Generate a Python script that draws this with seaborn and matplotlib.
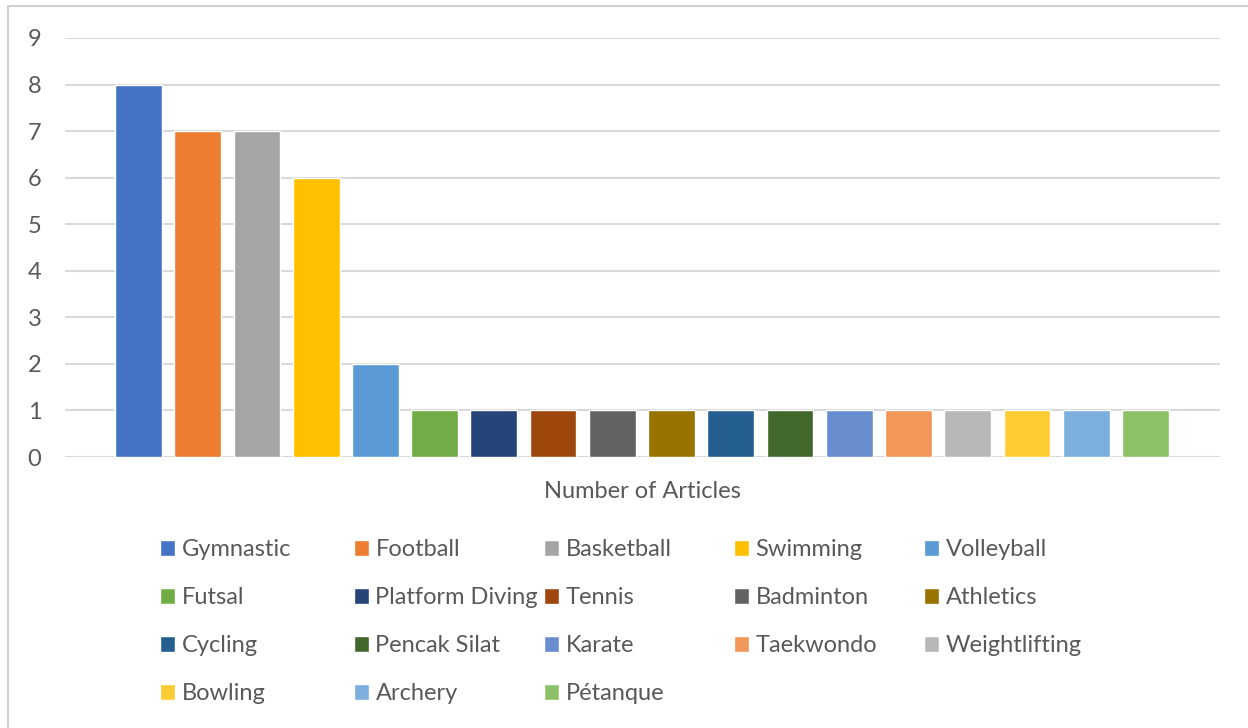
import matplotlib
matplotlib.use("Agg")
import matplotlib.pyplot as plt
from matplotlib.lines import Line2D
import seaborn as sns
import pandas as pd

sports = ["Gymnastic", "Football", "Basketball", "Swimming", "Volleyball",
          "Futsal", "Platform Diving", "Tennis", "Badminton", "Athletics",
          "Cycling", "Pencak Silat", "Karate", "Taekwondo", "Weightlifting",
          "Bowling", "Archery", "Pétanque"]
articles = [8, 7, 7, 6, 2, 1, 1, 1, 1, 1, 1, 1, 1, 1, 1, 1, 1, 1]
colors = ["#4472C4", "#ED7D31", "#A5A5A5", "#FFC000", "#5B9BD5", "#70AD47",
          "#264478", "#9E480E", "#636363", "#997300", "#255E91", "#43682B",
          "#698ED0", "#F1975A", "#B7B7B7", "#FFCD33", "#7CAFDD", "#8CC168"]
y_ticks = list(range(0, 10))

sns.set_theme(style="white")
plt.rcParams["font.family"] = ["Lato", "DejaVu Sans"]
TEXT = "#595959"
GRID = "#D9D9D9"
FS = 17

df = pd.DataFrame({"sport": sports, "articles": articles})

fig = plt.figure(figsize=(12.48, 7.28), dpi=100)
ax = fig.add_axes([65 / 1248, 1 - 457 / 728, 1155 / 1248, 419 / 728])

sns.barplot(data=df, x="sport", y="articles", hue="sport", hue_order=sports,
            order=sports, palette=colors, width=0.79, saturation=1,
            legend=False, ax=ax)

ax.set_xlim(-1.24, len(sports) - 1 + 1.26)
ax.set_ylim(0, 9)
ax.set_yticks(y_ticks)
ax.set_xticks([])
ax.yaxis.grid(True, color=GRID, linewidth=1.5)
ax.set_axisbelow(True)
for s in ax.spines.values():
    s.set_visible(False)
ax.tick_params(axis="y", length=0, pad=17, labelsize=FS, labelcolor=TEXT)
ax.set_ylabel("")
ax.set_xlabel("Number of Articles", fontsize=FS, color=TEXT)
ax.xaxis.set_label_coords(0.5, -0.057)

# legend laid out row by row in five fixed-width columns
handles = list(ax.patches)[:len(sports)]
ncol = 5
col_x = [160, 354, 544, 734, 924]
for c in range(ncol):
    idx = list(range(c, len(sports), ncol))
    fig.legend([handles[i] for i in idx], [sports[i] for i in idx],
               loc="upper left",
               bbox_to_anchor=(col_x[c] / 1248, 1 - 539 / 728),
               frameon=False, fontsize=FS, labelcolor=TEXT,
               handlelength=0.64, handleheight=0.64, handletextpad=0.27,
               labelspacing=1.145, borderpad=0, borderaxespad=0)

# thin outer frame of the chart area
fig.add_artist(Line2D([8 / 1248, 8 / 1248], [0, 1 - 6 / 728],
                      transform=fig.transFigure, color="#D0D0D0", linewidth=1.5))
fig.add_artist(Line2D([8 / 1248, 1], [1 - 6 / 728, 1 - 6 / 728],
                      transform=fig.transFigure, color="#D0D0D0", linewidth=1.5))

fig.savefig("out.png", dpi=100, facecolor="white")
